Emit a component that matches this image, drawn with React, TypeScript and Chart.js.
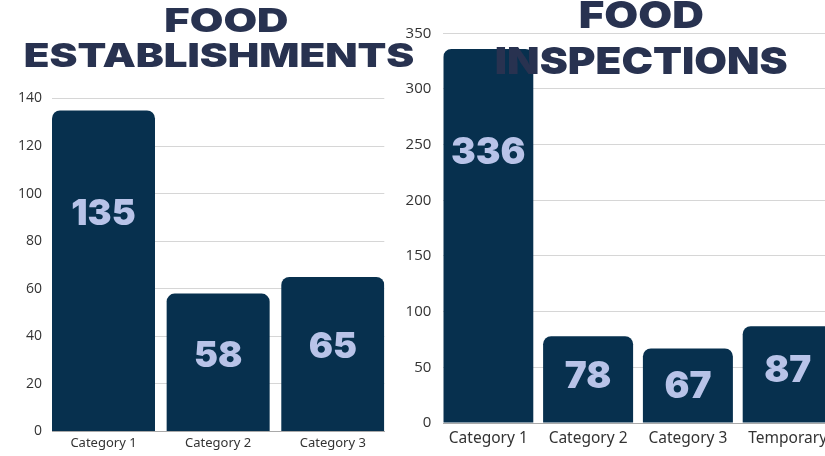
import React, { useEffect, useRef } from "react";
import { Chart, registerables } from "chart.js";

Chart.register(...registerables);

// ---------- data ----------
const establishmentCategories = ["Category 1", "Category 2", "Category 3"];
const establishmentValues = [135, 58, 65];
const establishmentTicks = [0, 20, 40, 60, 80, 100, 120, 140];
const establishmentTitle = ["FOOD", "ESTABLISHMENTS"];

const inspectionCategories = ["Category 1", "Category 2", "Category 3", "Temporary"];
const inspectionValues = [336, 78, 67, 87];
const inspectionTicks = [0, 50, 100, 150, 200, 250, 300, 350];
const inspectionTitle = ["FOOD", "INSPECTIONS"];

// ---------- styles ----------
const BAR = "#07304E";
const LABEL = "#B8C3E8";
const TITLE = "#283250";
const GRID = "#D6D6D6";
const AXIS = "#A9A9A9";
const TICK = "#333333";
const HEAVY = "Inter, Lato, 'Open Sans', sans-serif";

type TitleLine = { text: string; cx: number; baseline: number; width: number; size: number };

type PanelLayout = {
  canvasLeft: number;
  canvasWidth: number;
  yWidth: number;
  padRight: number;
  padTop: number;
  xHeight: number;
  yTickPad: number;
  xTickPad: number;
  yTickSize: number;
  xTickSize: number;
  barPct: number;
  labelSize: number;
  title: TitleLine[];
  z: number;
};

const valueLabelPlugin = (values: number[], fontSize: number) => ({
  id: "valueLabels",
  afterDatasetsDraw(chart: any) {
    const ctx = chart.ctx;
    const meta = chart.getDatasetMeta(0);
    ctx.save();
    ctx.font = `900 ${fontSize}px ${HEAVY}`;
    ctx.fillStyle = LABEL;
    ctx.textAlign = "center";
    ctx.textBaseline = "alphabetic";
    meta.data.forEach((bar: any, i: number) => {
      const { x, y, base } = bar.getProps(["x", "y", "base"], true);
      const h = base - y;
      const cy = y + Math.min(102, Math.max(36, h * 0.44));
      const txt = String(values[i]);
      const m = ctx.measureText(txt);
      ctx.fillText(txt, x, cy + m.actualBoundingBoxAscent / 2);
    });
    ctx.restore();
  },
});

const titlePlugin = (lines: TitleLine[]) => ({
  id: "overlayTitle",
  afterDraw(chart: any) {
    const ctx = chart.ctx;
    ctx.save();
    ctx.fillStyle = TITLE;
    ctx.textBaseline = "alphabetic";
    ctx.textAlign = "left";
    lines.forEach((l) => {
      ctx.font = `900 ${l.size}px ${HEAVY}`;
      const m = ctx.measureText(l.text);
      const inkW = m.actualBoundingBoxLeft + m.actualBoundingBoxRight;
      const sx = l.width / inkW;
      ctx.save();
      ctx.translate(l.cx - l.width / 2, l.baseline);
      ctx.scale(sx, 1);
      ctx.fillText(l.text, m.actualBoundingBoxLeft, 0);
      ctx.restore();
    });
    ctx.restore();
  },
});

function makeConfig(labels: string[], values: number[], ticks: number[], L: PanelLayout): any {
  const half = L.barPct / 2;
  return {
    type: "bar",
    data: {
      datasets: [
        {
          data: values.map((v, i) => ({ x: i, y: v })),
          backgroundColor: BAR,
          borderWidth: 0,
          borderRadius: 8,
          borderSkipped: "start",
          barPercentage: L.barPct,
          categoryPercentage: 1,
        },
      ],
    },
    options: {
      responsive: false,
      animation: false,
      layout: { padding: { left: 0, right: L.padRight, top: L.padTop, bottom: 0 } },
      plugins: { legend: { display: false }, tooltip: { enabled: false }, title: { display: false } },
      scales: {
        x: {
          type: "linear",
          offset: false,
          min: -half,
          max: labels.length - 1 + half,
          afterBuildTicks: (s: any) => {
            s.ticks = labels.map((_, i) => ({ value: i }));
          },
          grid: { display: false, drawTicks: false, offset: false },
          border: { display: true, color: AXIS, width: 1 },
          ticks: {
            color: TICK,
            padding: L.xTickPad,
            maxRotation: 0,
            autoSkip: false,
            callback: (v: any) => labels[Math.round(Number(v))] ?? "",
            font: { family: "'Noto Sans', 'Open Sans', sans-serif", size: L.xTickSize },
          },
          afterFit: (s: any) => {
            s.height = L.xHeight;
          },
        },
        y: {
          min: ticks[0],
          max: ticks[ticks.length - 1],
          afterBuildTicks: (s: any) => {
            s.ticks = ticks.map((v) => ({ value: v }));
          },
          grid: { color: GRID, lineWidth: 1, drawTicks: false },
          border: { display: false },
          ticks: {
            color: TICK,
            padding: L.yTickPad,
            font: { family: "'Open Sans', sans-serif", size: L.yTickSize },
          },
          afterFit: (s: any) => {
            s.width = L.yWidth;
          },
        },
      },
    },
    plugins: [valueLabelPlugin(values, L.labelSize), titlePlugin(L.title)],
  };
}

function Panel(props: { labels: string[]; values: number[]; ticks: number[]; layout: PanelLayout }) {
  const ref = useRef<HTMLCanvasElement | null>(null);
  const { labels, values, ticks, layout } = props;
  useEffect(() => {
    if (!ref.current) return;
    const chart = new Chart(ref.current, makeConfig(labels, values, ticks, layout));
    return () => chart.destroy();
  }, []);
  return (
    <canvas
      ref={ref}
      width={layout.canvasWidth}
      height={456}
      style={{
        position: "absolute",
        left: layout.canvasLeft,
        top: 0,
        width: layout.canvasWidth,
        height: 456,
        display: "block",
        zIndex: layout.z,
      }}
    />
  );
}

const leftLayout: PanelLayout = {
  canvasLeft: 0,
  canvasWidth: 420,
  yWidth: 52,
  padRight: 35.7,
  padTop: 98.5,
  xHeight: 24.5,
  yTickPad: 10,
  xTickPad: 4,
  yTickSize: 14,
  xTickSize: 13,
  barPct: 0.8984,
  labelSize: 36,
  title: [
    { text: establishmentTitle[0], cx: 226.7, baseline: 31.7, width: 122, size: 32.6 },
    { text: establishmentTitle[1], cx: 219.2, baseline: 66.7, width: 388.3, size: 32.6 },
  ],
  z: 2,
};

const rightLayout: PanelLayout = {
  canvasLeft: 395,
  canvasWidth: 450,
  yWidth: 48.3,
  padRight: 12.3,
  padTop: 33.3,
  xHeight: 33,
  yTickPad: 12,
  xTickPad: 6,
  yTickSize: 15,
  xTickSize: 15.5,
  barPct: 0.9018,
  labelSize: 37,
  title: [
    { text: inspectionTitle[0], cx: 246.3, baseline: 28.3, width: 122.7, size: 37.5 },
    { text: inspectionTitle[1], cx: 246.3, baseline: 74, width: 290.7, size: 37.5 },
  ],
  z: 1,
};

export default function App() {
  return (
    <div
      style={{
        position: "fixed",
        left: 0,
        top: 0,
        width: 825,
        height: 456,
        overflow: "hidden",
        background: "#ffffff",
      }}
    >
      <Panel labels={inspectionCategories} values={inspectionValues} ticks={inspectionTicks} layout={rightLayout} />
      <Panel labels={establishmentCategories} values={establishmentValues} ticks={establishmentTicks} layout={leftLayout} />
    </div>
  );
}
